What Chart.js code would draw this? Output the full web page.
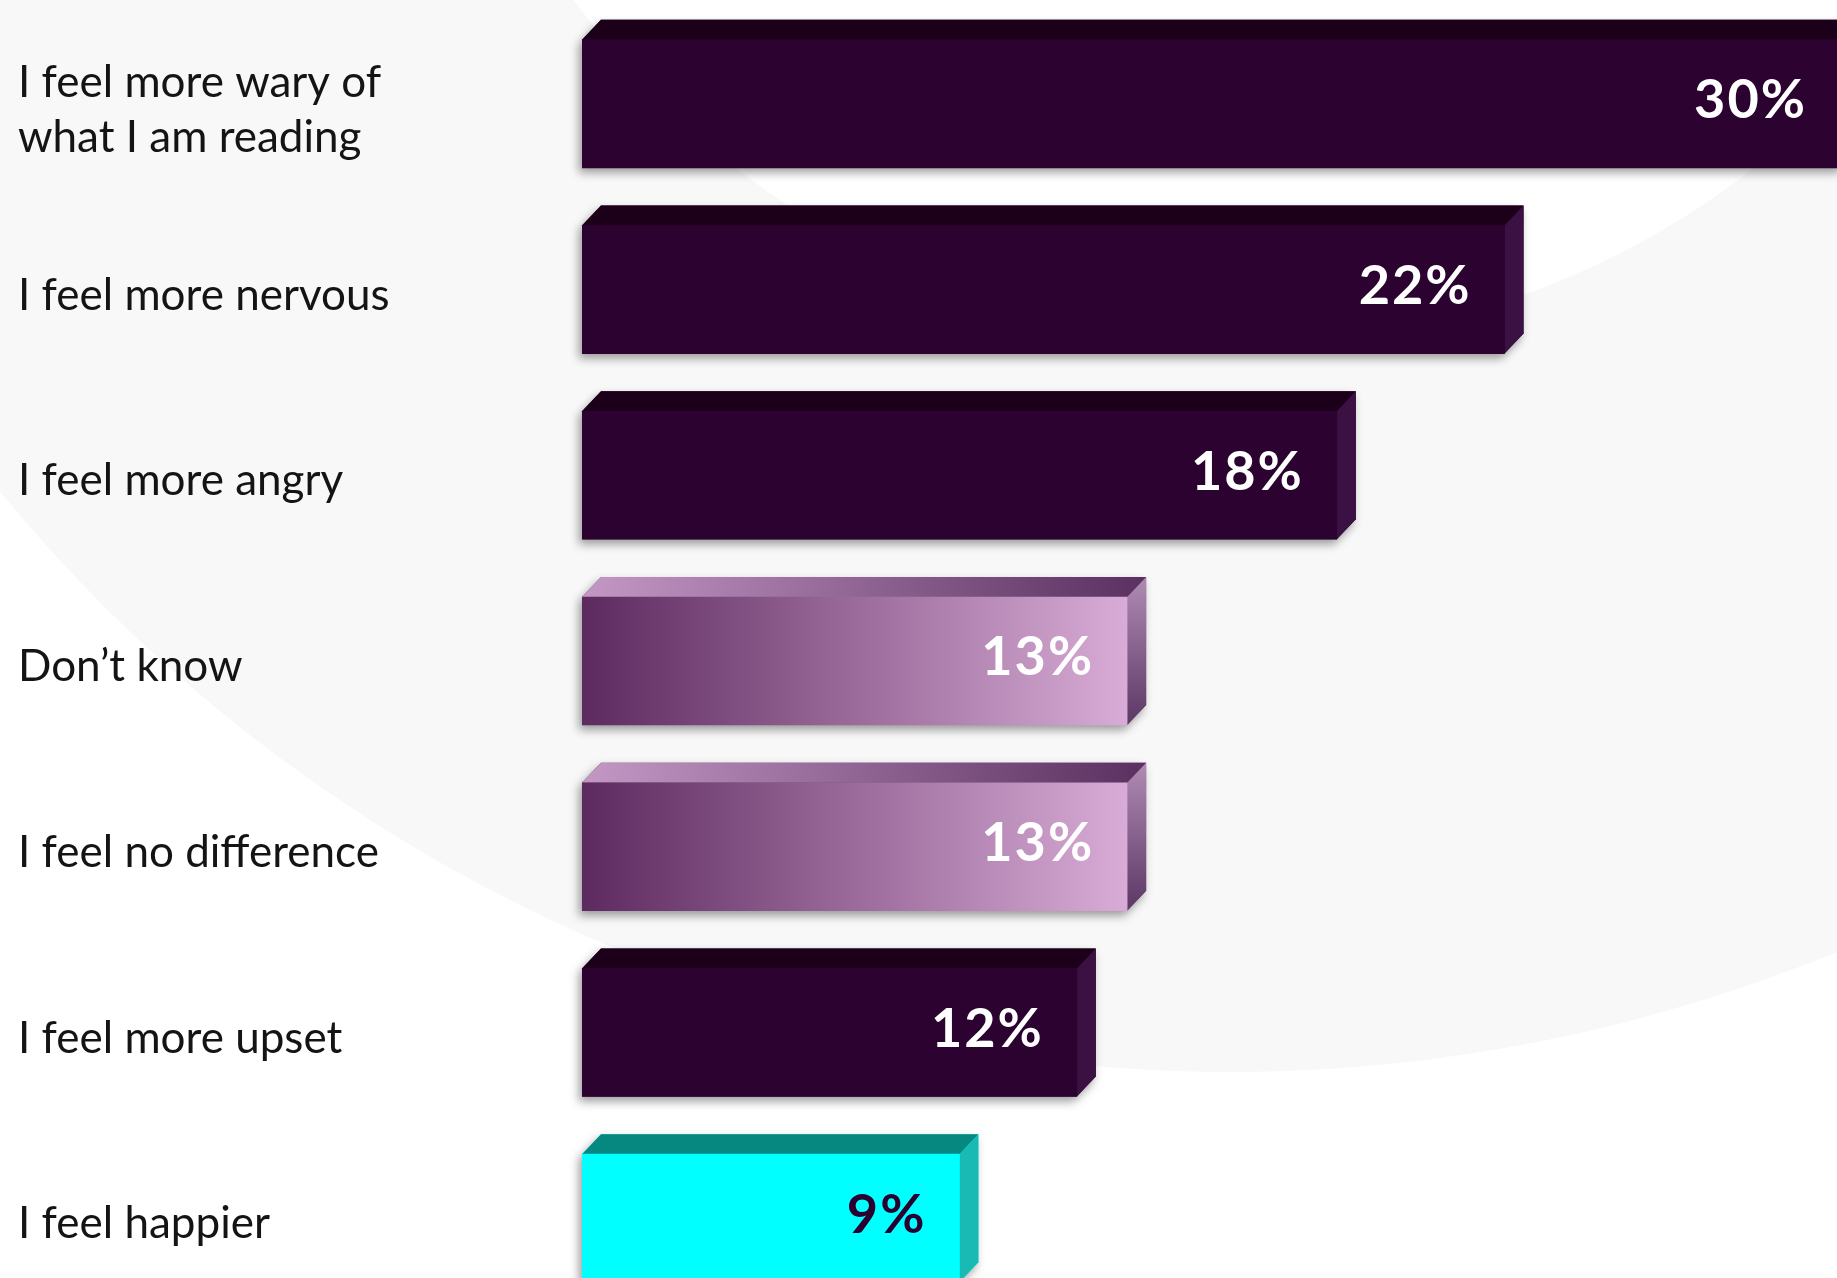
<!DOCTYPE html>
<html>
<head>
<meta charset="utf-8">
<script src="https://cdn.jsdelivr.net/npm/chart.js@4.4.1/dist/chart.umd.min.js"></script>
<style>
  html, body { margin: 0; padding: 0; background: #fff; overflow: hidden; }
  #wrap { position: relative; width: 1837px; height: 1278px; overflow: hidden; }
  #chart { position: absolute; left: 0; top: 0; }
</style>
</head>
<body>
<div id="wrap"><canvas id="chart" width="1845" height="1330"></canvas></div>
<script>
// values (bar lengths; the printed labels are rounded)
var categories = [
  ['I feel more wary of', 'what I am reading'],
  'I feel more nervous',
  'I feel more angry',
  'Don’t know',
  'I feel no difference',
  'I feel more upset',
  'I feel happier'
];
var percents = [30, 22, 18, 13, 13, 11.8, 9];
var valueLabels = ['30%', '22%', '18%', '13%', '13%', '12%', '9%'];

// which look each bar gets
var barKinds = ['dark', 'dark', 'dark', 'soft', 'soft', 'dark', 'accent'];

var DX = 19, DY = 20;
var looks = {
  dark:   { front: '#2c0330', top: '#1c0019', side: '#3a1142', text: '#ffffff' },
  soft:   { front: ['#5d2a5f', '#d8acd6'], top: ['#c398c5', '#5a3060'], side: ['#b08bb4', '#5d3765'], text: '#ffffff' },
  accent: { front: '#00ffff', top: '#06877f', side: '#19bab3', text: '#2a0030' }
};

function hGrad(ctx, x0, x1, stops) {
  var g = ctx.createLinearGradient(x0, 0, x1, 0);
  g.addColorStop(0, stops[0]);
  g.addColorStop(1, stops[1]);
  return g;
}

function frontFill(c) {
  var look = looks[barKinds[c.dataIndex]];
  if (typeof look.front === 'string') return look.front;
  var chart = c.chart;
  if (!chart.chartArea || !chart.scales.x) return look.front[0];
  var x = chart.scales.x;
  return hGrad(chart.ctx, x.getPixelForValue(0), x.getPixelForValue(percents[c.dataIndex]), look.front);
}

var boxPlugin = {
  id: 'box3d',
  beforeDraw: function(chart) {
    // soft background shapes
    var ctx = chart.ctx;
    ctx.save();
    ctx.fillStyle = '#f8f8f8';
    ctx.beginPath(); ctx.arc(1230, -522, 1594, 0, Math.PI * 2); ctx.fill();
    ctx.fillStyle = '#ffffff';
    ctx.beginPath(); ctx.arc(1245, -485, 828, 0, Math.PI * 2); ctx.fill();
    ctx.restore();
  },
  beforeDatasetsDraw: function(chart) {
    var ctx = chart.ctx;
    var meta = chart.getDatasetMeta(0);
    meta.data.forEach(function(bar, i) {
      var p = bar.getProps(['x', 'y', 'base', 'height'], true);
      var x0 = p.base, x1 = p.x;
      var yt = p.y - p.height / 2, yb = p.y + p.height / 2;
      var look = looks[barKinds[i]];
      var solid = typeof look.front === 'string' ? look.front : look.front[0];

      // drop shadow of the whole box
      ctx.save();
      ctx.shadowColor = 'rgba(0,0,0,0.38)';
      ctx.shadowBlur = 10;
      ctx.shadowOffsetX = -3;
      ctx.shadowOffsetY = 5;
      ctx.fillStyle = solid;
      ctx.beginPath();
      ctx.moveTo(x0, yt);
      ctx.lineTo(x0 + DX, yt - DY);
      ctx.lineTo(x1 + DX, yt - DY);
      ctx.lineTo(x1 + DX, yb - DY);
      ctx.lineTo(x1, yb);
      ctx.lineTo(x0, yb);
      ctx.closePath();
      ctx.fill();
      ctx.restore();

      // top face
      ctx.fillStyle = typeof look.top === 'string' ? look.top : hGrad(ctx, x0, x1 + DX, look.top);
      ctx.beginPath();
      ctx.moveTo(x0, yt);
      ctx.lineTo(x0 + DX, yt - DY);
      ctx.lineTo(x1 + DX, yt - DY);
      ctx.lineTo(x1, yt);
      ctx.closePath();
      ctx.fill();

      // right face
      if (typeof look.side === 'string') {
        ctx.fillStyle = look.side;
      } else {
        var g = ctx.createLinearGradient(0, yt - DY, 0, yb);
        g.addColorStop(0, look.side[0]);
        g.addColorStop(1, look.side[1]);
        ctx.fillStyle = g;
      }
      ctx.beginPath();
      ctx.moveTo(x1, yt);
      ctx.lineTo(x1 + DX, yt - DY);
      ctx.lineTo(x1 + DX, yb - DY);
      ctx.lineTo(x1, yb);
      ctx.closePath();
      ctx.fill();
    });
  },
  afterDatasetsDraw: function(chart) {
    var ctx = chart.ctx;
    var meta = chart.getDatasetMeta(0);
    ctx.save();
    ctx.font = 'bold 54px Lato';
    ctx.letterSpacing = '2px';
    ctx.textAlign = 'right';
    ctx.textBaseline = 'middle';
    meta.data.forEach(function(bar, i) {
      var p = bar.getProps(['x', 'y'], true);
      ctx.fillStyle = looks[barKinds[i]].text;
      ctx.fillText(valueLabels[i], p.x - 33, p.y - 3);
    });
    ctx.restore();
  }
};

var chart = new Chart(document.getElementById('chart'), {
  type: 'bar',
  data: {
    labels: categories,
    datasets: [{
      data: percents,
      backgroundColor: frontFill,
      borderWidth: 0,
      barThickness: 128
    }]
  },
  options: {
    indexAxis: 'y',
    responsive: false,
    animation: false,
    devicePixelRatio: 1,
    layout: { padding: { left: 18, right: 5, top: 11, bottom: 19 } },
    plugins: { legend: { display: false }, tooltip: { enabled: false } },
    scales: {
      x: { display: false, min: 0, max: 30 },
      y: {
        grid: { display: false },
        border: { display: false },
        ticks: {
          crossAlign: 'far',
          labelOffset: 6,
          padding: 0,
          color: '#141414',
          font: { family: 'Lato', size: 44, lineHeight: 1.25 }
        },
        afterFit: function(s) {
          s.width = 564;
          s.paddingTop = 0;
          s.paddingBottom = 0;
        }
      }
    }
  },
  plugins: [boxPlugin]
});
</script>
</body>
</html>
